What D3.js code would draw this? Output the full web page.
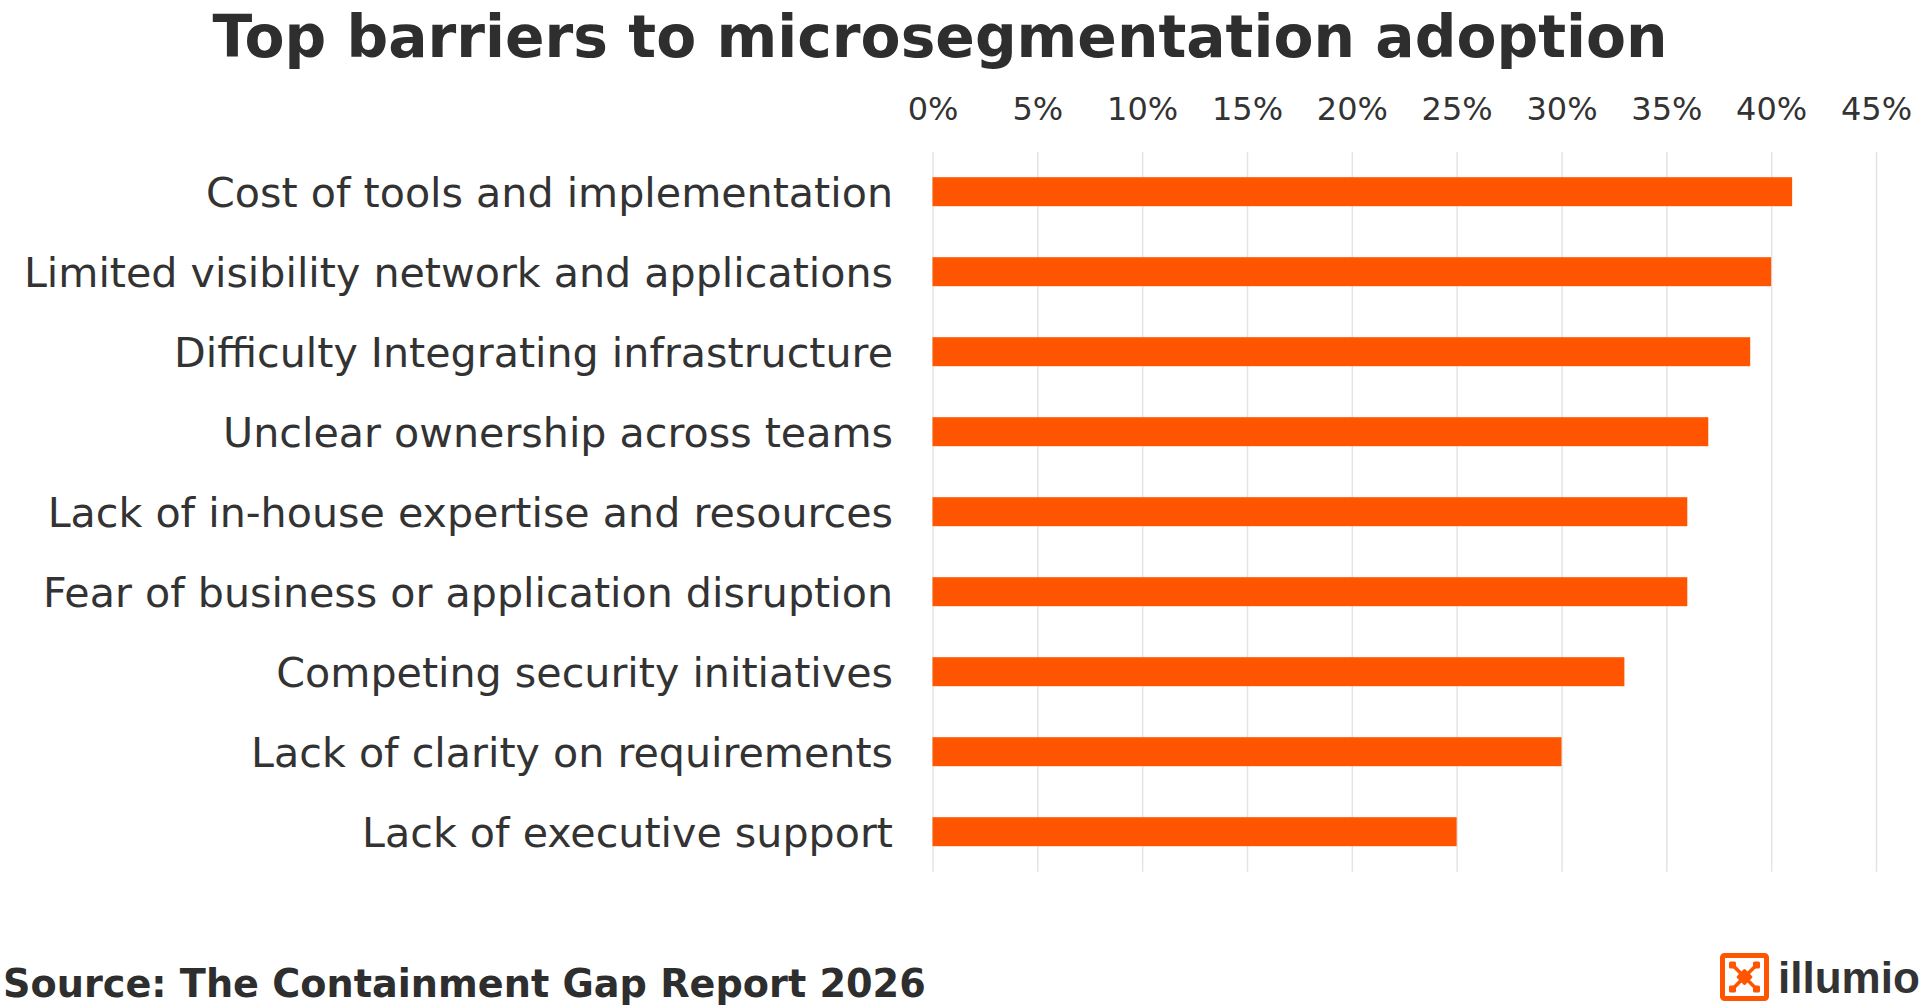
<!DOCTYPE html>
<html>
<head>
<meta charset="utf-8">
<script src="https://cdn.jsdelivr.net/npm/d3@7/dist/d3.min.js"></script>
<style>
  html, body { margin: 0; padding: 0; background: #ffffff; }
  svg { display: block; }
</style>
</head>
<body>
<svg id="chart" width="1920" height="1005"></svg>
<script>
const categories = [
  "Cost of tools and implementation",
  "Limited visibility network and applications",
  "Difficulty Integrating infrastructure",
  "Unclear ownership across teams",
  "Lack of in-house expertise and resources",
  "Fear of business or application disruption",
  "Competing security initiatives",
  "Lack of clarity on requirements",
  "Lack of executive support"
];
const values = [41, 40, 39, 37, 36, 36, 33, 30, 25];
const tickValues = [0, 5, 10, 15, 20, 25, 30, 35, 40, 45];
const titleText = "Top barriers to microsegmentation adoption";
const sourceText = "Source: The Containment Gap Report 2026";
const brandText = "illumio";

const W = 1920, H = 1005;
const textColor = "#333333";
const barColor = "#FF5500";
const gridColor = "#e4e4e4";

const svg = d3.select("#chart");
svg.append("rect").attr("width", W).attr("height", H).attr("fill", "#fff");

const x = d3.scaleLinear().domain([0, 45]).range([932.5, 1876]);
const y = d3.scaleBand().domain(categories).range([151.7, 871.7])
  .paddingInner(0.6375).paddingOuter(0.6375 / 2);

// title
svg.append("text")
  .attr("x", 940).attr("y", 57)
  .attr("text-anchor", "middle")
  .attr("font-family", "DejaVu Sans")
  .attr("font-weight", "bold")
  .attr("font-size", 58.3)
  .attr("fill", "#2e2e2e")
  .text(titleText);

// top axis with gridlines
const xAxis = d3.axisTop(x)
  .tickValues(tickValues)
  .tickFormat(d => d + "%")
  .tickSizeInner(-(y.range()[1] - y.range()[0]))
  .tickSizeOuter(0)
  .tickPadding(31.7);

const gx = svg.append("g")
  .attr("transform", `translate(0,${y.range()[0]})`)
  .call(xAxis);
gx.select(".domain").remove();
gx.selectAll(".tick line").attr("stroke", gridColor).attr("stroke-width", 1.5);
gx.selectAll(".tick text")
  .attr("font-family", "DejaVu Sans")
  .attr("font-size", 32)
  .attr("fill", textColor);

// bars
svg.append("g").selectAll("rect")
  .data(values)
  .join("rect")
  .attr("x", x(0))
  .attr("y", (d, i) => y(categories[i]))
  .attr("width", d => x(d) - x(0))
  .attr("height", y.bandwidth())
  .attr("fill", barColor);

// category axis
const yAxis = d3.axisLeft(y).tickSize(0).tickPadding(39.5);
const gy = svg.append("g")
  .attr("transform", `translate(${x(0)},0)`)
  .call(yAxis);
gy.select(".domain").remove();
gy.selectAll(".tick text")
  .attr("font-family", "DejaVu Sans")
  .attr("font-size", 41.2)
  .attr("dy", "0.365em")
  .attr("fill", textColor);

// source
svg.append("text")
  .attr("x", 3).attr("y", 997)
  .attr("font-family", "DejaVu Sans")
  .attr("font-weight", "bold")
  .attr("font-size", 38.2)
  .attr("fill", "#2e2e2e")
  .text(sourceText);

// logo
const logo = svg.append("g").attr("transform", "translate(1744.5,977)");
logo.append("rect")
  .attr("x", -22).attr("y", -21.5).attr("width", 44).attr("height", 43)
  .attr("rx", 2)
  .attr("fill", "none").attr("stroke", barColor).attr("stroke-width", 5);
const corners = [[-12, -12], [12, -12], [-12, 12], [12, 12]];
logo.selectAll("line.arm").data(corners).join("line")
  .attr("class", "arm")
  .attr("x1", 0).attr("y1", 0)
  .attr("x2", d => d[0]).attr("y2", d => d[1])
  .attr("stroke", barColor).attr("stroke-width", 3.5);
logo.selectAll("rect.node").data(corners).join("rect")
  .attr("class", "node")
  .attr("x", d => d[0] - 3.5).attr("y", d => d[1] - 3.5)
  .attr("width", 7).attr("height", 7).attr("rx", 1.5)
  .attr("fill", barColor);
logo.append("rect")
  .attr("x", -6).attr("y", -6).attr("width", 12).attr("height", 12)
  .attr("rx", 1.5)
  .attr("transform", "rotate(45)")
  .attr("fill", barColor);

svg.append("text")
  .attr("x", 1778).attr("y", 993)
  .attr("font-family", "Liberation Sans")
  .attr("font-weight", "bold")
  .attr("font-size", 44)
  .attr("fill", "#333333")
  .text(brandText);
</script>
</body>
</html>
